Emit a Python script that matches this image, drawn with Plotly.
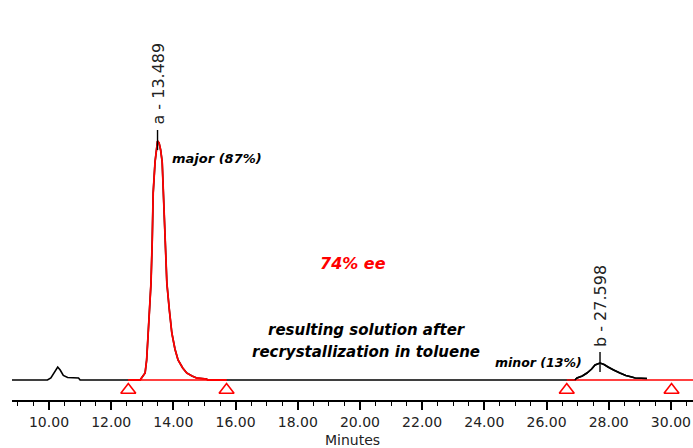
import numpy as np
import plotly.graph_objects as go

# ---------------- data ----------------
time_min = [8.81, 9.95, 10.06, 10.17, 10.28, 10.36, 10.46, 10.60, 10.95, 11.00,
            12.55, 12.93, 13.09, 13.14, 13.19, 13.24, 13.28, 13.32, 13.35, 13.41,
            13.45, 13.49, 13.54, 13.59, 13.64, 13.68, 13.72, 13.75, 13.79, 13.87,
            13.95, 14.05, 14.15, 14.30, 14.43, 14.60, 14.75, 15.07, 15.10, 15.71,
            26.65, 26.91, 26.98, 27.15, 27.30, 27.45, 27.56, 27.72, 27.85, 27.97,
            28.15, 28.36, 28.55, 28.75, 28.85, 29.23]
signal = [0, 0, 2, 8, 13, 10, 4.5, 2.5, 2, 0,
          0, 0, 7, 20, 47, 72, 97, 140, 187, 218,
          232, 239, 237, 230, 218, 187, 140, 120, 97, 70,
          47, 31, 20, 12, 7, 4, 2, 1, 0, 0,
          0, 0, 2, 4, 7, 11, 15, 17, 15.5, 13,
          10, 7, 4.5, 3, 2, 1.5]

# integration windows (start, end) in minutes
win_start = [12.55, 26.65]
win_end = [15.71, 30.02]
peak_labels = ["a - 13.489", "b - 27.598"]
peak_windows = [(13.0, 14.0), (27.0, 28.5)]

tick_vals = [10, 12, 14, 16, 18, 20, 22, 24, 26, 28, 30]
x_range = [8.81, 30.71]
y_range = [-20, 380]

t = np.array(time_min)
s = np.array(signal)

fig = go.Figure()

# full black trace
fig.add_trace(go.Scatter(x=t, y=s, mode="lines",
                         line=dict(color="black", width=1.6), hoverinfo="skip"))

# red integrated major peak
m = (t >= win_start[0]) & (t <= win_end[0])
fig.add_trace(go.Scatter(x=t[m], y=s[m], mode="lines",
                         line=dict(color="#ff0000", width=1.8), hoverinfo="skip"))

# red baselines
fig.add_trace(go.Scatter(x=[win_start[0], win_end[0]], y=[0, 0], mode="lines",
                         line=dict(color="#ff0000", width=1.6), hoverinfo="skip"))
fig.add_trace(go.Scatter(x=[win_start[1], x_range[1]], y=[0, 0], mode="lines",
                         line=dict(color="#ff0000", width=1.6), hoverinfo="skip"))

# minor peak redrawn black on top of red baseline
m2 = (t >= 26.9)
fig.add_trace(go.Scatter(x=t[m2], y=s[m2], mode="lines",
                         line=dict(color="black", width=1.6), hoverinfo="skip"))

# triangles at integration marks
tri_x = win_start + win_end
fig.add_trace(go.Scatter(x=tri_x, y=[-10] * len(tri_x), mode="markers",
                         marker=dict(symbol="triangle-up-open", size=13,
                                     color="#ff0000", line=dict(color="#ff0000", width=1.6)),
                         hoverinfo="skip"))

# peak apex ticks and labels
for (a, b), lab in zip(peak_windows, peak_labels):
    mm = (t >= a) & (t <= b)
    i = np.argmax(s[mm])
    rt = t[mm][i]
    ap = s[mm][i]
    fig.add_trace(go.Scatter(x=[rt, rt], y=[ap - 9, ap + 11], mode="lines",
                             line=dict(color="black", width=1.4), hoverinfo="skip"))
    fig.add_annotation(x=rt, y=ap + 14, xref="x", yref="y", text=lab,
                       textangle=-90, showarrow=False, yanchor="bottom",
                       xanchor="center",
                       font=dict(family="DejaVu Sans", size=16, color="#222"))

txt_font = dict(family="DejaVu Sans", size=13, color="black", weight="bold", style="italic")
fig.add_annotation(x=13.90, y=222, text="major (87%)", showarrow=False,
                   xanchor="left", yanchor="middle", font=txt_font)
fig.add_annotation(x=27.20, y=18, text="minor (13%)", showarrow=False,
                   xanchor="right", yanchor="middle",
                   font=dict(family="DejaVu Sans", size=12.5, color="black", weight="bold", style="italic"))
fig.add_annotation(x=19.79, y=117, text="74% ee", showarrow=False,
                   xanchor="center", yanchor="middle",
                   font=dict(family="DejaVu Sans", size=16, color="#ff0000", weight="bold", style="italic"))
fig.add_annotation(x=20.22, y=50, text="resulting solution after", showarrow=False,
                   xanchor="center", yanchor="middle",
                   font=dict(family="DejaVu Sans", size=15, color="black", weight="bold", style="italic"))
fig.add_annotation(x=20.19, y=28, text="recrystallization in toluene", showarrow=False,
                   xanchor="center", yanchor="middle",
                   font=dict(family="DejaVu Sans", size=15, color="black", weight="bold", style="italic"))

fig.update_layout(
    width=693, height=448,
    margin=dict(l=12, r=0, t=0, b=48),
    paper_bgcolor="white", plot_bgcolor="white",
    showlegend=False,
    xaxis=dict(range=x_range, tickvals=tick_vals,
               ticktext=[f"{v:.2f}" for v in tick_vals],
               showgrid=False, zeroline=False,
               showline=True, linecolor="black", linewidth=2,
               ticks="outside", ticklen=8, tickwidth=1.5, tickcolor="black",
               tickfont=dict(family="DejaVu Sans", size=14, color="#222"),
               minor=dict(dtick=0.5, tick0=10, ticks="outside", ticklen=4,
                          tickwidth=1.3, tickcolor="black", showgrid=False),
               title=dict(text="Minutes", standoff=6,
                          font=dict(family="DejaVu Sans", size=14, color="#222"))),
    yaxis=dict(range=y_range, visible=False, showgrid=False, zeroline=False),
)

fig.write_html("out.html")
